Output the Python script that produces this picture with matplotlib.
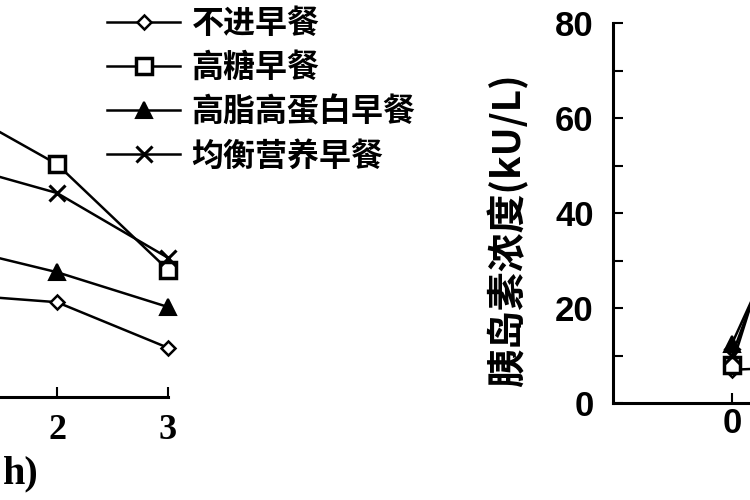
import matplotlib
matplotlib.use('Agg')
import matplotlib.pyplot as plt
from matplotlib.ticker import MultipleLocator

plt.rcParams['font.family'] = ['Liberation Sans', 'Noto Sans CJK SC']

# time after breakfast (h)
hours = [0, 0.5, 1, 2, 3]
labels = ['不进早餐', '高糖早餐', '高脂高蛋白早餐', '均衡营养早餐']

# blood glucose (left panel, mostly cropped)
glu_none = [4.9, 4.8, 4.72, 4.58, 3.82]
glu_sugar = [4.8, 8.5, 7.92, 6.88, 5.12]
glu_fat = [4.8, 5.8, 5.53, 5.08, 4.5]
glu_bal = [4.8, 7.6, 6.92, 6.4, 5.32]

# insulin (right panel, mostly cropped)
ins_none = [7, 7.5, 7, 6.5, 6]
ins_sugar = [8, 48, 62, 30, 15]
ins_fat = [12.5, 40, 45, 35, 20]
ins_bal = [10, 44, 55, 28, 14]

styles = [dict(marker='D', ms=7, mfc='white', mew=1.8),
          dict(marker='s', ms=12, mfc='white', mew=2.5),
          dict(marker='^', ms=11, mfc='black', mew=1.5),
          dict(marker='x', ms=11, mew=2.2)]

W, H = 750, 500
fig = plt.figure(figsize=(7.5, 5), dpi=100)
fig.patch.set_facecolor('white')

# left axes: tick 2 at x=57px, tick 3 at x=168px, spine at y=397px
ax1 = fig.add_axes([(168 - 444) / W, (H - 397) / H, 444 / W, 360 / H])
ax1.set_xlim(-1, 3)
ax1.set_ylim(3, 9)
lines = []
for ys, st, lab in zip([glu_none, glu_sugar, glu_fat, glu_bal], styles, labels):
    ln, = ax1.plot(hours, ys, color='black', lw=1.8, mec='black',
                   clip_on=False, label=lab, **st)
    lines.append(ln)
for s in ['top', 'right', 'left']:
    ax1.spines[s].set_visible(False)
ax1.spines['bottom'].set_linewidth(2.2)
ax1.set_xticks([2, 3])
ax1.set_yticks([])
ax1.tick_params(axis='x', direction='in', length=7, width=1.5, pad=12,
                labelsize=26)
for t in ax1.get_xticklabels():
    t.set_fontfamily('Liberation Serif')
    t.set_fontweight('bold')

fig.text(39 / W, 1 - 474 / H, 'h)', ha='right', va='center',
         fontsize=29, fontweight='bold', family='Liberation Serif')

leg = fig.legend(handles=lines, loc='upper left',
                 bbox_to_anchor=(107 / W, 1 - 8 / H), frameon=False,
                 prop=dict(family='Noto Sans CJK SC', weight='bold', size=23),
                 handlelength=2.3, handletextpad=0.35, labelspacing=0.38,
                 borderpad=0, borderaxespad=0)

# right axes: spine x=613px, 0 at y=403px, 80 at y=23px
ax2 = fig.add_axes([613 / W, (H - 403) / H, 476 / W, 380 / H])
ax2.set_xlim(-1, 3)
ax2.set_ylim(0, 80)
for ys, st in zip([ins_none, ins_sugar, ins_fat, ins_bal], styles):
    ax2.plot(hours, ys, color='black', lw=1.8, mec='black', **st)
for s in ['top', 'right']:
    ax2.spines[s].set_visible(False)
for s in ['left', 'bottom']:
    ax2.spines[s].set_linewidth(2.2)
ax2.set_xticks([0])
ax2.set_yticks([0, 20, 40, 60, 80])
ax2.yaxis.set_minor_locator(MultipleLocator(10))
ax2.tick_params(axis='both', which='both', direction='in', length=7, width=1.5)
ax2.tick_params(axis='y', pad=14, labelsize=25)
ax2.tick_params(axis='x', pad=3, labelsize=25)
for t in ax2.get_xticklabels() + ax2.get_yticklabels():
    t.set_fontweight('bold')

fig.text(508 / W, 1 - 230 / H, '胰岛素浓度(kU/L)', rotation=90,
         ha='center', va='center', fontsize=28, fontweight='bold',
         family=['Noto Sans CJK SC', 'DejaVu Sans'])

fig.savefig('out.png', dpi=100, facecolor='white')
